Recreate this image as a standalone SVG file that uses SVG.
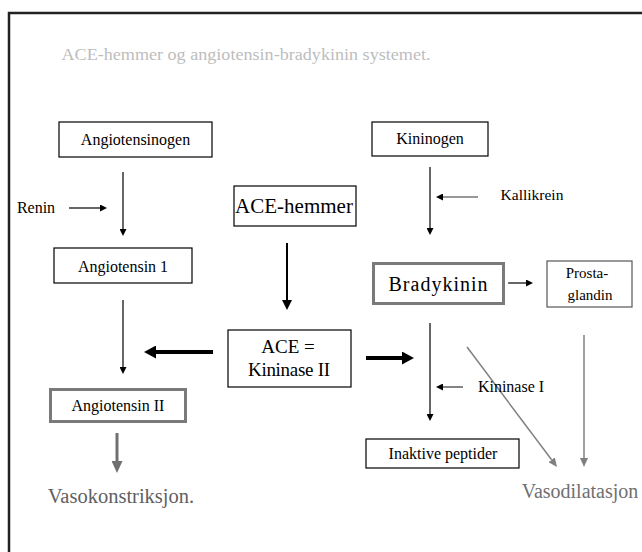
<svg xmlns="http://www.w3.org/2000/svg" width="642" height="552" viewBox="0 0 642 552">
<style>
text{font-family:"Liberation Serif","Times New Roman",serif;text-anchor:middle;fill:#000}
.box{fill:#fff;stroke:#000;stroke-width:1.2}
.gbox{fill:#fff;stroke:#7a7a7a;stroke-width:3}
.thin{stroke:#000;stroke-width:1.2;fill:none}
.thick{stroke:#000;stroke-width:4;fill:none}
.med{stroke:#000;stroke-width:2;fill:none}
.gthick{stroke:#707070;stroke-width:3;fill:none}
.gthin{stroke:#808080;stroke-width:1.5;fill:none}
.s16{font-size:16px}
</style>
<defs>
<marker id="hThin" markerUnits="userSpaceOnUse" markerWidth="7" markerHeight="7" viewBox="0 0 7 7" refX="0" refY="3.5" orient="auto"><path d="M0,0L7,3.5L0,7z" fill="#000"/></marker>
<marker id="hMed" markerUnits="userSpaceOnUse" markerWidth="10" markerHeight="10" viewBox="0 0 10 10" refX="0" refY="5" orient="auto"><path d="M0,0L10,5L0,10z" fill="#000"/></marker>
<marker id="hThick" markerUnits="userSpaceOnUse" markerWidth="12" markerHeight="13" viewBox="0 0 12 13" refX="0" refY="6.5" orient="auto"><path d="M0,0L12,6.5L0,13z" fill="#000"/></marker>
<marker id="hGThick" markerUnits="userSpaceOnUse" markerWidth="12" markerHeight="11" viewBox="0 0 12 11" refX="0" refY="5.5" orient="auto"><path d="M0,0L12,5.5L0,11z" fill="#707070"/></marker>
<marker id="hGThin" markerUnits="userSpaceOnUse" markerWidth="9" markerHeight="8" viewBox="0 0 9 8" refX="0" refY="4" orient="auto"><path d="M0,0L9,4L0,8z" fill="#808080"/></marker>
</defs>
<rect width="642" height="552" fill="#fff"/>
<rect x="9" y="13" width="700" height="600" fill="none" stroke="#222" stroke-width="2.5"/>
<text x="246" y="60" font-size="17" fill="#bdbdbd" style="fill:#bdbdbd" textLength="369" lengthAdjust="spacingAndGlyphs">ACE-hemmer og angiotensin-bradykinin systemet.</text>

<g id="connectors">
<line class="thin" x1="69" y1="208" x2="100" y2="208" marker-end="url(#hThin)"/>
<line class="thin" x1="123" y1="172" x2="123" y2="229" marker-end="url(#hThin)"/>
<line class="thin" x1="123" y1="300" x2="123" y2="367" marker-end="url(#hThin)"/>
<line class="med" x1="287" y1="243" x2="287" y2="300" marker-end="url(#hMed)"/>
<line class="thick" x1="213" y1="352" x2="156" y2="352" marker-end="url(#hThick)"/>
<line class="thick" x1="366" y1="358" x2="402" y2="358" marker-end="url(#hThick)"/>
<line class="gthick" x1="117" y1="433" x2="117" y2="461" marker-end="url(#hGThick)"/>
<line class="thin" x1="430" y1="167" x2="430" y2="228" marker-end="url(#hThin)"/>
<line class="thin" x1="478" y1="197" x2="443" y2="197" style="stroke:#333" marker-end="url(#hThin)"/>
<line class="thin" x1="508" y1="283" x2="526" y2="283" marker-end="url(#hThin)"/>
<line class="thin" x1="430" y1="323" x2="430" y2="414" marker-end="url(#hThin)"/>
<line class="thin" x1="463" y1="387" x2="443" y2="387" style="stroke:#333" marker-end="url(#hThin)"/>
<line class="gthin" x1="467" y1="347" x2="551.6" y2="459.8" marker-end="url(#hGThin)"/>
<line class="gthin" x1="584" y1="335" x2="584" y2="458" marker-end="url(#hGThin)"/>
</g>

<g id="renin"><text class="s16" x="36" y="213">Renin</text></g>
<g id="kallikrein"><text x="532" y="200" font-size="15.5">Kallikrein</text></g>
<g id="kininase1"><text class="s16" x="511" y="392">Kininase I</text></g>

<g id="angiotensinogen"><rect class="box" x="59" y="122" width="153" height="35"/><text class="s16" x="135.5" y="145">Angiotensinogen</text></g>
<g id="angiotensin1"><rect class="box" x="54" y="248" width="138" height="35"/><text class="s16" x="123" y="272">Angiotensin 1</text></g>
<g id="acehemmer"><rect class="box" x="234" y="186" width="122" height="40"/><text x="294" y="213" font-size="21">ACE-hemmer</text></g>
<g id="ace"><rect class="box" x="228" y="330" width="123" height="57"/><text x="288" y="353" font-size="19">ACE =</text><text x="289" y="376" font-size="19" textLength="82" lengthAdjust="spacing">Kininase II</text></g>
<g id="angiotensin2"><rect class="gbox" x="50.5" y="389.5" width="135" height="32"/><text class="s16" x="118" y="411">Angiotensin II</text></g>
<g id="vasokonstriksjon"><text x="121" y="503" font-size="20.5" style="fill:#606060">Vasokonstriksjon.</text></g>
<g id="kininogen"><rect class="box" x="372" y="122" width="116" height="34"/><text class="s16" x="430" y="144">Kininogen</text></g>
<g id="bradykinin"><rect class="gbox" x="373.5" y="263.5" width="130" height="40"/><text x="438" y="291" font-size="20" textLength="99" lengthAdjust="spacing">Bradykinin</text></g>
<g id="prostaglandin"><rect class="box" x="547" y="261" width="85" height="46" style="stroke:#555"/><text x="587" y="278" font-size="15">Prosta-</text><text x="590" y="300" font-size="15">glandin</text></g>
<g id="inaktive"><rect class="box" x="366" y="439" width="153" height="29"/><text class="s16" x="443" y="459">Inaktive peptider</text></g>
<g id="vasodilatasjon"><text x="580" y="498" font-size="20" style="fill:#707070">Vasodilatasjon</text></g>
</svg>
